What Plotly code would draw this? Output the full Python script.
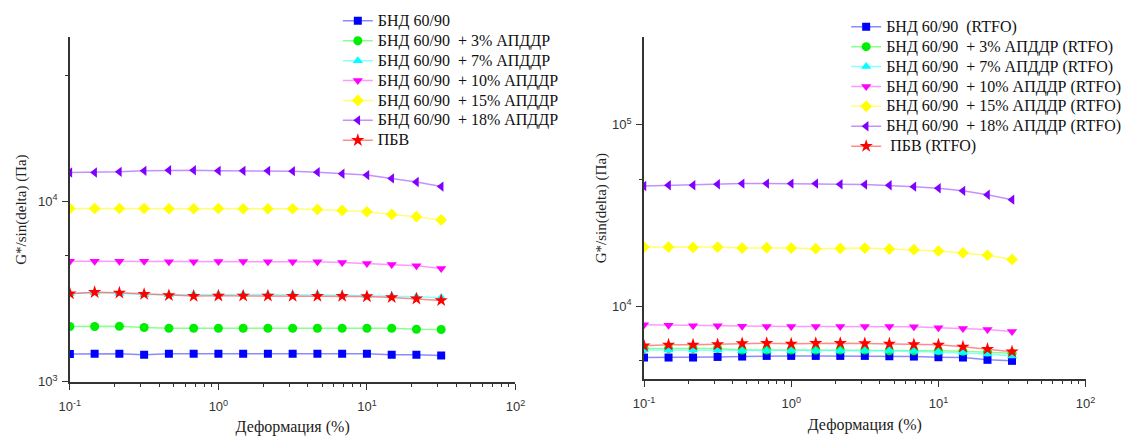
import plotly.graph_objects as go

strain = [0.1, 0.1468, 0.2154, 0.3162, 0.4642, 0.6813, 1.0, 1.468, 2.154, 3.162,
          4.642, 6.813, 10.0, 14.68, 21.54, 31.62]

# Left panel (unaged)
names_left = ["БНД 60/90", "БНД 60/90\u00a0\u00a0+ 3% АПДДР", "БНД 60/90\u00a0\u00a0+ 7% АПДДР",
              "БНД 60/90\u00a0\u00a0+ 10% АПДДР", "БНД 60/90\u00a0\u00a0+ 15% АПДДР",
              "БНД 60/90\u00a0\u00a0+ 18% АПДДР", "ПБВ"]
bnd = [1425, 1430, 1430, 1415, 1430, 1430, 1430, 1430, 1430, 1430, 1430, 1430, 1430, 1415, 1415, 1400]
a3 = [2025, 2025, 2030, 2000, 1980, 1980, 1980, 1980, 1980, 1980, 1980, 1980, 1980, 1980, 1955, 1950]
a7 = [3085, 3120, 3100, 3045, 3035, 3045, 3045, 3045, 3045, 3045, 3045, 3020, 3000, 2985, 2960, 2920]
a10 = [4660, 4660, 4660, 4660, 4620, 4620, 4640, 4640, 4620, 4620, 4620, 4580, 4530, 4470, 4400, 4250]
a15 = [9120, 9120, 9120, 9120, 9090, 9090, 9120, 9090, 9090, 9090, 9010, 8900, 8750, 8460, 8220, 7880]
a18 = [14430, 14430, 14550, 14740, 14860, 14860, 14740, 14740, 14740, 14680, 14500, 14200, 13960, 13390, 12790, 12060]
pbv = [3080, 3135, 3110, 3060, 3010, 2985, 2995, 2995, 2995, 2985, 2985, 2985, 2970, 2935, 2885, 2825]

# Right panel (RTFO)
names_right = ["БНД 60/90\u00a0\u00a0(RTFO)", "БНД 60/90\u00a0\u00a0+ 3% АПДДР (RTFO)",
               "БНД 60/90\u00a0\u00a0+ 7% АПДДР (RTFO)", "БНД 60/90\u00a0\u00a0+ 10% АПДДР (RTFO)",
               "БНД 60/90\u00a0\u00a0+ 15% АПДДР (RTFO)", "БНД 60/90\u00a0\u00a0+ 18% АПДДР (RTFO)",
               "\u00a0ПБВ (RTFO)"]
bnd_r = [5220, 5220, 5220, 5260, 5285, 5330, 5330, 5330, 5330, 5330, 5305, 5285, 5240, 5220, 5070, 5005]
a3_r = [5860, 5860, 5860, 5860, 5740, 5740, 5740, 5740, 5740, 5740, 5690, 5690, 5690, 5645, 5600, 5510]
a7_r = [5740, 5740, 5740, 5740, 5690, 5690, 5690, 5690, 5690, 5690, 5690, 5645, 5600, 5555, 5465, 5330]
a10_r = [7900, 7865, 7800, 7800, 7770, 7735, 7735, 7735, 7735, 7735, 7735, 7705, 7610, 7545, 7455, 7270]
a15_r = [21170, 21170, 21080, 21170, 20900, 20990, 20900, 20730, 20810, 20900, 20640, 20470, 20140, 19650, 19080, 18080]
a18_r = [45900, 46300, 46300, 46900, 47300, 47300, 47300, 47300, 46900, 46700, 46300, 45500, 44600, 43150, 41050, 38600]
pbv_r = [6060, 6130, 6130, 6160, 6235, 6260, 6210, 6260, 6260, 6235, 6210, 6160, 6130, 5980, 5810, 5625]

x_title = "Деформация (%)"
y_title = "G*/sin(delta) (Па)"

colors = ["#0000FF", "#00EE00", "#00FFFF", "#FF00FF", "#FFFF00", "#7F00FF", "#FF0000"]
line_colors = ["rgba(90,90,255,0.7)", "rgba(90,255,90,0.7)", "rgba(90,255,255,0.7)",
               "rgba(255,110,255,0.7)", "rgba(255,255,90,0.85)", "rgba(170,100,255,0.7)",
               "rgba(255,90,90,0.7)"]
symbols = ["square", "circle", "triangle-up", "triangle-down", "diamond", "triangle-left", "star"]
sizes = [8, 9, 9, 9, 9, 9, 10]

LEG_TXT = '<span style="font-size:16px">%s</span>'

fig = go.Figure()
left_series = [bnd, a3, a7, a10, a15, a18, pbv]
right_series = [bnd_r, a3_r, a7_r, a10_r, a15_r, a18_r, pbv_r]

for i, (nm, ys) in enumerate(zip(names_left, left_series)):
    fig.add_trace(go.Scatter(x=strain, y=ys, name=LEG_TXT % nm, mode="lines+markers",
                             line=dict(color=line_colors[i], width=1.5),
                             marker=dict(symbol=symbols[i], size=sizes[i], color=colors[i]),
                             xaxis="x", yaxis="y", legend="legend"))
for i, (nm, ys) in enumerate(zip(names_right, right_series)):
    fig.add_trace(go.Scatter(x=strain, y=ys, name=LEG_TXT % nm, mode="lines+markers",
                             line=dict(color=line_colors[i], width=1.5),
                             marker=dict(symbol=symbols[i], size=sizes[i], color=colors[i]),
                             xaxis="x2", yaxis="y2", legend="legend2"))

W, H = 1129, 436
xt_vals = [0.1, 1, 10, 100]
xt_text = ["10<sup>-1</sup>", "10<sup>0</sup>", "10<sup>1</sup>", "10<sup>2</sup>"]
x_minor = [m * d for d in (0.1, 1, 10) for m in range(2, 10)]

tickfont = dict(family="Liberation Sans, Arial", size=13, color="#333")

def xaxis(domain, anchor):
    return dict(type="log", range=[-1, 2], domain=domain, anchor=anchor,
                showline=True, linecolor="#333", linewidth=1.6, mirror=False,
                showgrid=False, zeroline=False, ticks="outside", ticklen=6, tickwidth=1.3,
                tickcolor="#333", tickmode="array", tickvals=xt_vals, ticktext=xt_text,
                tickfont=tickfont, ticklabelstandoff=6,
                minor=dict(tickmode="array", tickvals=x_minor, ticks="outside", ticklen=3,
                           tickwidth=1, tickcolor="#333", showgrid=False),
                title=dict(text=x_title, standoff=8,
                           font=dict(family="Liberation Serif, Times New Roman", size=16, color="#222")))

def yaxis(domain, anchor, rng, major, major_text, minor, standoff):
    return dict(type="log", range=rng, domain=domain, anchor=anchor,
                showline=True, linecolor="#333", linewidth=1.6, mirror=False,
                showgrid=False, zeroline=False, ticks="outside", ticklen=6, tickwidth=1.3,
                tickcolor="#333", tickmode="array", tickvals=major, ticktext=major_text,
                tickfont=tickfont, ticklabelstandoff=2,
                minor=dict(tickmode="array", tickvals=minor, ticks="outside", ticklen=3,
                           tickwidth=1, tickcolor="#333", showgrid=False),
                title=dict(text=y_title, standoff=standoff,
                           font=dict(family="Liberation Serif, Times New Roman", size=15, color="#222")))

legfont = dict(family="Liberation Serif, Times New Roman", size=13, color="#111")

fig.update_layout(
    width=W, height=H, paper_bgcolor="white", plot_bgcolor="white",
    margin=dict(l=0, r=0, t=0, b=0),
    showlegend=True,
    xaxis=xaxis([60 / W, 514 / W], "y"),
    yaxis=yaxis([(H - 389) / H, (H - 38) / H], "x", [3, 4.908],
                [1000, 10000], ["10<sup>3</sup>", "10<sup>4</sup>"], [5000, 50000], 8),
    xaxis2=xaxis([645 / W, 1095 / W], "y2"),
    yaxis2=yaxis([(H - 386) / H, (H - 38) / H], "x2", [3.6, 5.48],
                 [10000, 100000], ["10<sup>4</sup>", "10<sup>5</sup>"], [5000, 50000], 2),
    legend=dict(x=333 / W, y=1 - 6 / H, xanchor="left", yanchor="top",
                bgcolor="rgba(0,0,0,0)", font=legfont, tracegroupgap=0, itemwidth=30),
    legend2=dict(x=851 / W, y=1 - 12 / H, xanchor="left", yanchor="top",
                 bgcolor="rgba(0,0,0,0)", font=legfont, tracegroupgap=0, itemwidth=30),
)

fig.write_html("out.html")
